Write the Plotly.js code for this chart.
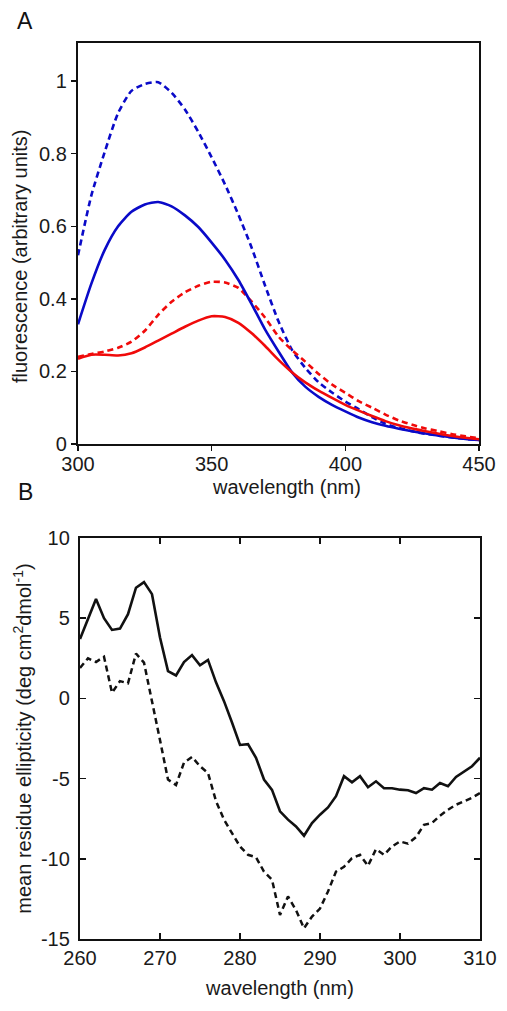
<!DOCTYPE html>
<html>
<head>
<meta charset="utf-8">
<script src="https://cdn.plot.ly/plotly-3.0.1.min.js"></script>
<style>html,body{margin:0;padding:0;background:#fff;}#chart{width:507px;height:1011px;}</style>
</head>
<body>
<div id="chart"></div>
<script>
// Panel A: fluorescence spectra
const wavelengthA = [300,305,310,315,320,325,330,335,340,345,350,355,360,365,370,375,380,385,390,395,400,405,410,415,420,425,430,435,440,445,450];
const blueDashed = [0.52,0.685,0.805,0.912,0.973,0.992,0.997,0.968,0.922,0.860,0.790,0.715,0.632,0.540,0.436,0.338,0.260,0.210,0.170,0.142,0.117,0.096,0.074,0.056,0.044,0.035,0.028,0.023,0.018,0.014,0.011];
const blueSolid = [0.330,0.442,0.535,0.600,0.640,0.660,0.667,0.655,0.630,0.598,0.555,0.508,0.452,0.385,0.315,0.255,0.198,0.158,0.130,0.108,0.090,0.073,0.060,0.050,0.042,0.035,0.029,0.023,0.018,0.014,0.011];
const redSolid = [0.235,0.246,0.246,0.244,0.250,0.266,0.285,0.304,0.323,0.340,0.352,0.350,0.334,0.305,0.270,0.232,0.198,0.170,0.147,0.127,0.108,0.092,0.077,0.063,0.052,0.043,0.035,0.028,0.022,0.017,0.013];
const redDashed = [0.240,0.248,0.255,0.265,0.282,0.312,0.356,0.392,0.418,0.436,0.447,0.445,0.430,0.392,0.348,0.296,0.259,0.227,0.193,0.164,0.141,0.118,0.100,0.081,0.065,0.053,0.043,0.035,0.027,0.021,0.016];
const yTicksA = [0,0.2,0.4,0.6,0.8,1];
const yTickTextA = ['0','0.2','0.4','0.6','0.8','1'];
const xTicksA = [300,350,400,450];

// Panel B: CD spectra
const wavelengthB = [260,261,262,263,264,265,266,267,268,269,270,271,272,273,274,275,276,277,278,279,280,281,282,283,284,285,286,287,288,289,290,291,292,293,294,295,296,297,298,299,300,301,302,303,304,305,306,307,308,309,310];
const cdSolid = [3.7,5.0,6.2,5.0,4.27,4.35,5.25,6.9,7.25,6.5,3.8,1.7,1.43,2.27,2.7,2.06,2.4,1.0,-0.17,-1.5,-2.9,-2.85,-3.7,-5.06,-5.7,-7.04,-7.56,-7.98,-8.56,-7.77,-7.25,-6.8,-6.1,-4.85,-5.23,-4.85,-5.54,-5.17,-5.6,-5.6,-5.69,-5.73,-5.9,-5.6,-5.69,-5.27,-5.48,-4.9,-4.58,-4.23,-3.7];
const cdDashed = [1.9,2.5,2.27,2.6,0.35,1.08,0.94,2.8,2.23,-0.3,-2.6,-5.06,-5.4,-4.0,-3.65,-4.23,-4.65,-6.4,-7.56,-8.4,-9.23,-9.75,-9.9,-10.8,-11.3,-13.5,-12.35,-13.2,-14.33,-13.6,-13.1,-12.04,-10.8,-10.5,-9.96,-9.75,-10.44,-9.4,-9.75,-9.23,-8.92,-9.06,-8.65,-7.88,-7.77,-7.31,-6.94,-6.63,-6.42,-6.2,-5.9];
const yTicksB = [-15,-10,-5,0,5,10];
const yTickTextB = ['-15','-10','-5','0','5','10'];
const xTicksB = [260,270,280,290,300,310];

const BLUE = '#0a0ac8';
const RED = '#f00a0a';
const FONT = {family: '"Liberation Sans", Arial, Helvetica, sans-serif', size: 20, color: '#1a1a1a'};
const DASH = '6px,4px';

const traces = [
  {x: wavelengthA, y: blueDashed, mode: 'lines', line: {color: BLUE, width: 2.6, dash: DASH, shape: 'spline', smoothing: 0.6}, xaxis: 'x', yaxis: 'y', showlegend: false},
  {x: wavelengthA, y: redDashed, mode: 'lines', line: {color: RED, width: 2.6, dash: DASH, shape: 'spline', smoothing: 0.6}, xaxis: 'x', yaxis: 'y', showlegend: false},
  {x: wavelengthA, y: blueSolid, mode: 'lines', line: {color: BLUE, width: 2.6, shape: 'spline', smoothing: 0.6}, xaxis: 'x', yaxis: 'y', showlegend: false},
  {x: wavelengthA, y: redSolid, mode: 'lines', line: {color: RED, width: 2.6, shape: 'spline', smoothing: 0.6}, xaxis: 'x', yaxis: 'y', showlegend: false},
  {x: wavelengthB, y: cdSolid, mode: 'lines', line: {color: '#111', width: 2.6}, xaxis: 'x2', yaxis: 'y2', showlegend: false},
  {x: wavelengthB, y: cdDashed, mode: 'lines', line: {color: '#111', width: 2.5, dash: DASH}, xaxis: 'x2', yaxis: 'y2', showlegend: false}
];

const W = 507, H = 1011;
const layout = {
  width: W, height: H,
  margin: {l: 0, r: 0, t: 0, b: 0},
  paper_bgcolor: '#fff', plot_bgcolor: '#fff',
  font: FONT,
  showlegend: false,
  xaxis: {
    domain: [78/W, 479/W], range: [300, 450], anchor: 'y',
    tickvals: xTicksA, ticks: 'outside', ticklen: 5, tickwidth: 1.5, tickcolor: '#111',
    showline: true, mirror: true, linecolor: '#111', linewidth: 2.2,
    showgrid: false, zeroline: false, tickfont: FONT, ticklabelstandoff: -4
  },
  yaxis: {
    domain: [1 - 444/H, 1 - 43/H], range: [0, 1.105], anchor: 'x',
    tickvals: yTicksA, ticktext: yTickTextA, ticks: 'outside', ticklen: 5, tickwidth: 1.5, tickcolor: '#111',
    showline: true, mirror: true, linecolor: '#111', linewidth: 2.2,
    showgrid: false, zeroline: false, tickfont: FONT
  },
  xaxis2: {
    domain: [80/W, 480/W], range: [260, 310], anchor: 'y2',
    tickvals: xTicksB, ticks: 'inside', ticklen: 6, tickwidth: 1.5, tickcolor: '#111',
    showline: true, mirror: 'allticks', linecolor: '#111', linewidth: 2.2,
    showgrid: false, zeroline: false, tickfont: FONT, ticklabelstandoff: 0,
    title: {text: 'wavelength (nm)', font: FONT, standoff: 13}
  },
  yaxis2: {
    domain: [1 - 939/H, 1 - 538/H], range: [-15, 10], anchor: 'x2',
    tickvals: yTicksB, ticktext: yTickTextB, ticks: 'inside', ticklen: 6, tickwidth: 1.5, tickcolor: '#111',
    showline: true, mirror: 'allticks', linecolor: '#111', linewidth: 2.2,
    showgrid: false, zeroline: false, tickfont: FONT, ticklabelstandoff: 4,
    title: {text: 'mean residue ellipticity (deg cm<sup>2</sup>dmol<sup>-1</sup>)', font: FONT, standoff: 4}
  },
  annotations: [
    {text: 'A', xref: 'paper', yref: 'paper', x: 25/W, y: 1 - 21/H, xanchor: 'center', yanchor: 'middle', showarrow: false, font: {family: FONT.family, size: 23, color: '#111'}},
    {text: 'B', xref: 'paper', yref: 'paper', x: 25/W, y: 1 - 492/H, xanchor: 'center', yanchor: 'middle', showarrow: false, font: {family: FONT.family, size: 23, color: '#111'}},
    {text: 'fluorescence (arbitrary units)', xref: 'paper', yref: 'paper', x: 20/W, y: 1 - 257/H, xanchor: 'center', yanchor: 'middle', textangle: -90, showarrow: false, font: FONT},
    {text: 'wavelength (nm)', xref: 'paper', yref: 'paper', x: 286/W, y: 1 - 474/H, xanchor: 'center', yanchor: 'top', showarrow: false, font: FONT}
  ]
};

Plotly.newPlot('chart', traces, layout, {staticPlot: true, displayModeBar: false});
</script>
</body>
</html>
